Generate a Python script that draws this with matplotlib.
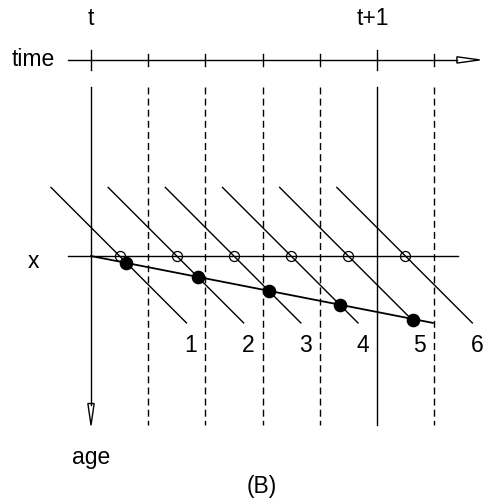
import matplotlib

matplotlib.use("Agg")
import matplotlib.pyplot as plt
from matplotlib.patches import Polygon

# time steps between t and t+1 (t at 0, t+1 at 5), age grows downward
step_ticks = [0, 1, 2, 3, 4, 5, 6]
major_ticks = [0, 5]
time_labels = {"t": 0.0, "t+1": 4.93}

# characteristic (45 degree) lines: where each crosses the age level x
diag_cross = [0.5, 1.5, 2.5, 3.5, 4.5, 5.5]
diag_labels = ["1", "2", "3", "4", "5", "6"]

# filled dots on the trajectory line (time, age below x)
dot_time = [0.61, 1.87, 3.11, 4.36, 5.63]
dot_age = [0.12, 0.37, 0.62, 0.86, 1.12]

# trajectory end point
traj_time = [0.0, 5.98]
traj_age = [0.0, 1.17]

plt.rcParams["font.family"] = ["Liberation Sans", "DejaVu Sans"]

fig = plt.figure(figsize=(4.83, 5.03), dpi=100)
ax = fig.add_axes([0, 0, 1, 1])
ax.set_xlim(-1.592, 6.857)
ax.set_ylim(4.32, -4.478)
ax.axis("off")

fs = 16.5
lw = 1.0
dash = (0, (5, 3))

# time axis
axis_y = -3.43
ax.plot([-0.4, 6.4], [axis_y, axis_y], color="black", lw=lw)
ax.add_patch(Polygon([[6.4, axis_y - 0.055], [6.8, axis_y], [6.4, axis_y + 0.055]],
                     closed=True, facecolor="white", edgecolor="black", lw=lw))
for t in step_ticks:
    h = 0.17 if t in major_ticks else 0.11
    ax.plot([t, t], [axis_y - h, axis_y + h], color="black", lw=lw)
ax.text(-1.01, axis_y, "time", fontsize=fs, ha="center", va="center")
for label, t in time_labels.items():
    ax.text(t, -4.15, label, fontsize=fs, ha="center", va="center")

# vertical grid lines
for t in step_ticks:
    if t == 0:
        continue
    style = "-" if t in major_ticks else dash
    ax.plot([t, t], [-2.96, 2.96], color="black", lw=lw, linestyle=style)

# age axis with arrow
ax.plot([0, 0], [-2.96, 2.6], color="black", lw=lw)
ax.add_patch(Polygon([[-0.055, 2.58], [0, 2.96], [0.055, 2.58]],
                     closed=True, facecolor="white", edgecolor="black", lw=lw))
ax.text(0, 3.53, "age", fontsize=fs, ha="center", va="center")

# age level x
ax.plot([-0.4, 6.42], [0, 0], color="black", lw=lw)
ax.text(-1.0, 0.1, "x", fontsize=fs, ha="center", va="center")

# characteristic lines
for c, label in zip(diag_cross, diag_labels):
    ax.plot([c - 1.2, c + 1.17], [-1.2, 1.17], color="black", lw=lw)
    ax.text(c + 1.25, 1.57, label, fontsize=fs, ha="center", va="center")
ax.plot(diag_cross, [0] * len(diag_cross), linestyle="none", marker="o",
        markersize=7.2, markerfacecolor="none", markeredgecolor="black", markeredgewidth=0.9)

# trajectory
ax.plot(traj_time, traj_age, color="black", lw=1.3)
ax.plot(dot_time, dot_age, linestyle="none", marker="o", markersize=8.8, color="black")

ax.text(2.99, 4.04, "(B)", fontsize=fs, ha="center", va="center")

fig.savefig("out.png", dpi=100)
